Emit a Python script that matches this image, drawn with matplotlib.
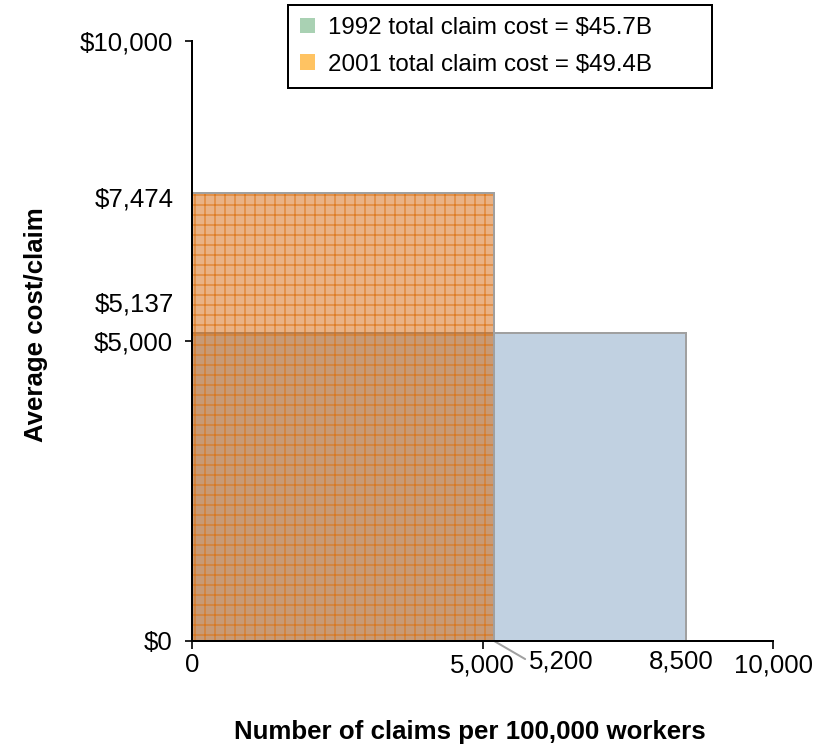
import matplotlib
matplotlib.use("Agg")
import matplotlib.pyplot as plt
from matplotlib.patches import Patch

plt.rcParams["font.family"] = ["Liberation Sans", "DejaVu Sans"]
plt.rcParams["hatch.linewidth"] = 0.7

# data
years = ["1992", "2001"]
claims = [8500, 5200]          # claims per 100,000 workers
avg_cost = [5137, 7474]        # average cost per claim ($)
totals = ["$45.7B", "$49.4B"]
y_ticks = [0, 5000, 10000]
y_ticklabels = ["$0", "$5,000", "$10,000"]
x_ticks = [0, 5000, 10000]
x_ticklabels = ["0", "5,000", "10,000"]

C_BLUE = "#c1d1e1"
C_ORANGE = (0.82, 0.37, 0.0, 0.48)
C_HATCH = (0.86, 0.45, 0.08, 0.85)
C_EDGE = "#a0a0a0"
C_LEG = ["#a9d1b3", "#ffc362"]

# dpi 120 so that '++' hatch spacing is ~10 px like the reference
fig = plt.figure(figsize=(7.0, 745 / 120), dpi=120)
ax = fig.add_axes([192 / 840, 104 / 745, 581 / 840, 600 / 745])

# 1992 (wide, light blue)
ax.bar(0, avg_cost[0], width=claims[0], align="edge", color=C_BLUE,
       edgecolor=C_EDGE, lw=1.2, zorder=2)
# 2001 (orange, grid hatched) - fill+hatch, then the grey outline
ax.bar(0, avg_cost[1], width=claims[1], align="edge", facecolor=C_ORANGE,
       edgecolor=C_HATCH, hatch="++", lw=0, zorder=3)
ax.bar(0, avg_cost[1], width=claims[1], align="edge", facecolor="none",
       edgecolor=C_EDGE, lw=1.2, zorder=4)

ax.set_xlim(0, 10000)
ax.set_ylim(0, 10000)
ax.set_yticks(y_ticks)
ax.set_yticklabels(y_ticklabels)
ax.set_xticks(x_ticks)
ax.set_xticklabels(x_ticklabels)
ax.tick_params(axis="y", direction="out", length=4.5, width=1.0, pad=7, labelsize=15.5)
ax.tick_params(axis="x", direction="out", length=4.5, width=1.0, pad=3, labelsize=15.5)
ax.spines["top"].set_visible(False)
ax.spines["right"].set_visible(False)
for s in ("left", "bottom"):
    ax.spines[s].set_linewidth(1.2)
    ax.spines[s].set_zorder(5)

# value labels on the y side
ax.annotate("$7,474", xy=(0, avg_cost[1]), xytext=(-11, -4), textcoords="offset points",
            ha="right", va="center", fontsize=15.5)
ax.annotate("$5,137", xy=(0, avg_cost[0]), xytext=(-11, 17), textcoords="offset points",
            ha="right", va="center", fontsize=15.5)

# value labels on the x side
ax.annotate("5,200", xy=(claims[1], 0), xytext=(40, -12), textcoords="offset points",
            ha="center", va="center", fontsize=15.5,
            arrowprops=dict(arrowstyle="-", color=C_EDGE, lw=1.2, shrinkA=0, shrinkB=0,
                            relpos=(0.0, 0.5)))
ax.annotate("8,500", xy=(claims[0], 0), xytext=(-3, -12), textcoords="offset points",
            ha="center", va="center", fontsize=15.5)

ax.set_xlabel("Number of claims per 100,000 workers", fontsize=15.5, fontweight="bold")
ax.set_ylabel("Average cost/claim", fontsize=15.5, fontweight="bold")
ax.xaxis.set_label_coords(0.478, -0.132)
ax.yaxis.set_label_coords(-0.248, 0.527)

handles = [Patch(facecolor=c, edgecolor="none") for c in C_LEG]
labels = ["%s total claim cost = %s" % (y, t) for y, t in zip(years, totals)]
leg = ax.legend(handles, labels, loc="upper left", mode="expand",
                bbox_to_anchor=(288 / 840, 1 - 92 / 745, 424 / 840, 87 / 745),
                bbox_transform=fig.transFigure,
                fontsize=14.5, frameon=True, fancybox=False, framealpha=1,
                edgecolor="black", handlelength=0.6, handleheight=0.6,
                handletextpad=0.55, labelspacing=0.6, borderpad=0.5,
                borderaxespad=0)
leg.get_frame().set_linewidth(1.2)

fig.savefig("out.png", dpi=120)
